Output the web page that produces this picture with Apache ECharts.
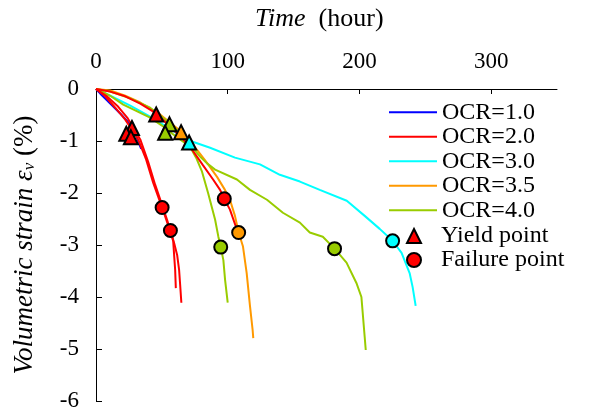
<!DOCTYPE html>
<html>
<head>
<meta charset="utf-8">
<script src="https://cdn.jsdelivr.net/npm/echarts@6/dist/echarts.min.js"></script>
<style>
  html, body { margin: 0; padding: 0; background: #fff; }
  #chart { width: 589px; height: 414px; }
</style>
</head>
<body>
<div id="chart"></div>
<script>
// values: [time (hour), volumetric strain (%)]
const ocrNames = ['OCR=1.0', 'OCR=2.0', 'OCR=3.0', 'OCR=3.5', 'OCR=4.0'];
const markNames = ['Yield point', 'Failure point'];
const timeTicks = [0, 100, 200, 300];

const ocr10 = [[0, 0], [3.3, -0.09], [10.8, -0.28], [18.4, -0.47], [26, -0.68], [30.5, -0.9], [34.3, -1.15]];
const ocr20a = [[0, 0], [7, -0.14], [14.6, -0.36], [22.2, -0.59], [26.7, -0.76], [32, -0.97], [38.1, -1.36],
  [43.4, -1.8], [47.2, -2.07], [50.2, -2.28], [53.3, -2.51], [56.3, -2.74], [58.6, -2.92], [59.3, -3.19],
  [60.1, -3.48], [60.6, -3.83]];
const ocr20b = [[0, 0], [7.8, -0.13], [16.1, -0.32], [23.7, -0.55], [28.3, -0.74], [33.6, -0.97], [39.6, -1.4],
  [44.9, -1.84], [50.2, -2.23], [54, -2.52], [56.5, -2.72], [59.3, -2.96], [61.6, -3.19], [63.1, -3.48],
  [63.9, -3.77], [64.8, -4.11]];
const ocr20c = [[0, 0], [10.8, -0.05], [22.2, -0.14], [33.6, -0.28], [45.7, -0.47], [56.3, -0.72], [65.4, -0.95],
  [71.4, -1.11], [81.3, -1.47], [88.9, -1.74], [94.2, -1.94], [97.4, -2.11], [101.7, -2.32], [106.1, -2.64]];
const ocr30 = [[0, 0], [10.8, -0.13], [26, -0.32], [41.1, -0.53], [56.3, -0.77], [70.7, -0.99], [86.6, -1.13],
  [105.5, -1.32], [124.5, -1.45], [139.6, -1.65], [154.8, -1.78], [169.9, -1.94], [190.4, -2.15], [204, -2.44],
  [215.4, -2.69], [225.2, -2.92], [232, -3.15], [238.1, -3.54], [240.4, -3.81], [242.7, -4.17]];
const ocr35 = [[0, 0], [10.8, -0.03], [22.2, -0.13], [33.6, -0.26], [48.7, -0.49], [64.6, -0.82], [76.7, -1.17],
  [84.3, -1.42], [91.9, -1.69], [97.9, -1.94], [101.7, -2.13], [105.5, -2.44], [108.3, -2.76], [111.6, -3.03],
  [114.4, -3.54], [116.9, -4.17], [118.9, -4.63], [119.4, -4.79]];
const ocr40a = [[0, 0], [3.3, -0.03], [10.8, -0.13], [20.7, -0.3], [31.3, -0.43], [41.1, -0.55], [51, -0.72],
  [56.3, -0.83], [63.9, -0.97], [71.4, -1.11], [76, -1.32], [80.5, -1.59], [85.1, -2.0], [90.4, -2.51],
  [92.9, -2.84], [94.7, -3.04], [96.7, -3.29], [98, -3.67], [100, -4.11]];
const ocr40b = [[0, 0], [10.8, -0.05], [26, -0.18], [41.1, -0.36], [55.5, -0.65], [63.9, -0.84], [71.4, -1.07],
  [79, -1.3], [84.3, -1.43], [90.4, -1.55], [107, -1.74], [116.9, -1.94], [129.8, -2.13], [141.9, -2.38],
  [154.8, -2.57], [162.3, -2.76], [172.2, -2.84], [181.1, -3.07], [190.2, -3.34], [197.7, -3.73],
  [201.5, -4.0], [204, -4.77], [204.8, -5.02]];

// [time, strain, index into ocrNames]
const yieldPoints = [[45.7, -0.49, 1], [55.8, -0.68, 4], [52.5, -0.84, 4], [64.6, -0.83, 3], [70.7, -1.03, 2],
  [27.3, -0.75, 1], [23, -0.86, 1], [26.5, -0.93, 1]];
const failurePoints = [[50.2, -2.28, 1], [56.5, -2.72, 1], [97.4, -2.11, 1], [108.3, -2.76, 3],
  [94.7, -3.04, 4], [181.1, -3.07, 4], [225.2, -2.92, 2]];

const colors = ['#0000ff', '#ff0000', '#00ffff', '#ff9900', '#99cc00'];
const serif = "'Liberation Serif', 'Times New Roman', serif";

const chart = echarts.init(document.getElementById('chart'));

function lineSeries(idx, data) {
  return {
    name: ocrNames[idx],
    type: 'line',
    data: data,
    symbol: 'none',
    color: colors[idx],
    lineStyle: { color: colors[idx], width: 2 },
    animation: false
  };
}

function markSeries(name, symbol, size, pts) {
  return {
    name: name,
    type: 'scatter',
    symbol: symbol,
    symbolSize: size,
    z: 5,
    itemStyle: { color: '#ff0000', borderColor: '#000', borderWidth: 2, opacity: 1 },
    data: pts.map(function (p) {
      return { value: [p[0], p[1]], itemStyle: { color: colors[p[2]] } };
    }),
    animation: false
  };
}

const option = {
  title: {
    text: '{i|Time}  (hour)',
    left: 255,
    top: 6,
    padding: 0,
    textStyle: {
      fontFamily: serif, fontSize: 26, fontWeight: 'normal', color: '#000',
      rich: { i: { fontFamily: serif, fontSize: 26, fontStyle: 'italic', color: '#000' } }
    }
  },
  grid: { left: 96, top: 89, right: 32, bottom: 13, containLabel: false },
  legend: [
    {
      orient: 'vertical',
      left: 389,
      top: 100,
      padding: 0,
      itemWidth: 48,
      itemHeight: 2,
      itemGap: 0,
      icon: 'rect',
      data: ocrNames,
      textStyle: { fontFamily: serif, fontSize: 24, color: '#000', lineHeight: 24.5 }
    },
    {
      orient: 'vertical',
      left: 406,
      top: 224,
      padding: 0,
      itemWidth: 14,
      itemHeight: 14,
      itemGap: 0,
      data: markNames,
      textStyle: { fontFamily: serif, fontSize: 24, color: '#000', lineHeight: 22, padding: [0, 0, 0, 15] }
    }
  ],
  xAxis: {
    type: 'value',
    position: 'top',
    min: 0,
    max: 350,
    interval: 100,
    axisLine: { show: true, lineStyle: { color: '#000', width: 1 } },
    axisTick: { show: true, inside: true, length: 5, customValues: timeTicks, lineStyle: { color: '#000' } },
    axisLabel: { customValues: timeTicks, margin: 16, fontFamily: serif, fontSize: 23, color: '#000' },
    splitLine: { show: false }
  },
  yAxis: {
    type: 'value',
    min: -6,
    max: 0,
    interval: 1,
    name: '{i|Volumetric strain ε}{s|v}{n| (%)}',
    nameLocation: 'middle',
    nameGap: 58,
    nameRotate: 90,
    nameTextStyle: {
      fontFamily: serif, fontSize: 27, color: '#000',
      rich: {
        i: { fontFamily: serif, fontSize: 27, fontStyle: 'italic', color: '#000' },
        s: { fontFamily: serif, fontSize: 17, fontStyle: 'italic', color: '#000', verticalAlign: 'bottom', padding: [8, 0, 0, 0] },
        n: { fontFamily: serif, fontSize: 27, color: '#000' }
      }
    },
    axisLine: { show: true, onZero: false, lineStyle: { color: '#000', width: 1 } },
    axisTick: { show: true, inside: true, length: 6, lineStyle: { color: '#000' } },
    axisLabel: { margin: 17, fontFamily: serif, fontSize: 23, color: '#000' },
    splitLine: { show: false }
  },
  series: [
    lineSeries(0, ocr10),
    lineSeries(2, ocr30),
    lineSeries(3, ocr35),
    lineSeries(4, ocr40a),
    lineSeries(4, ocr40b),
    lineSeries(1, ocr20c),
    lineSeries(1, ocr20a),
    lineSeries(1, ocr20b),
    markSeries(markNames[0], 'triangle', 14, yieldPoints),
    markSeries(markNames[1], 'circle', 13, failurePoints)
  ]
};

chart.setOption(option);
</script>
</body>
</html>
